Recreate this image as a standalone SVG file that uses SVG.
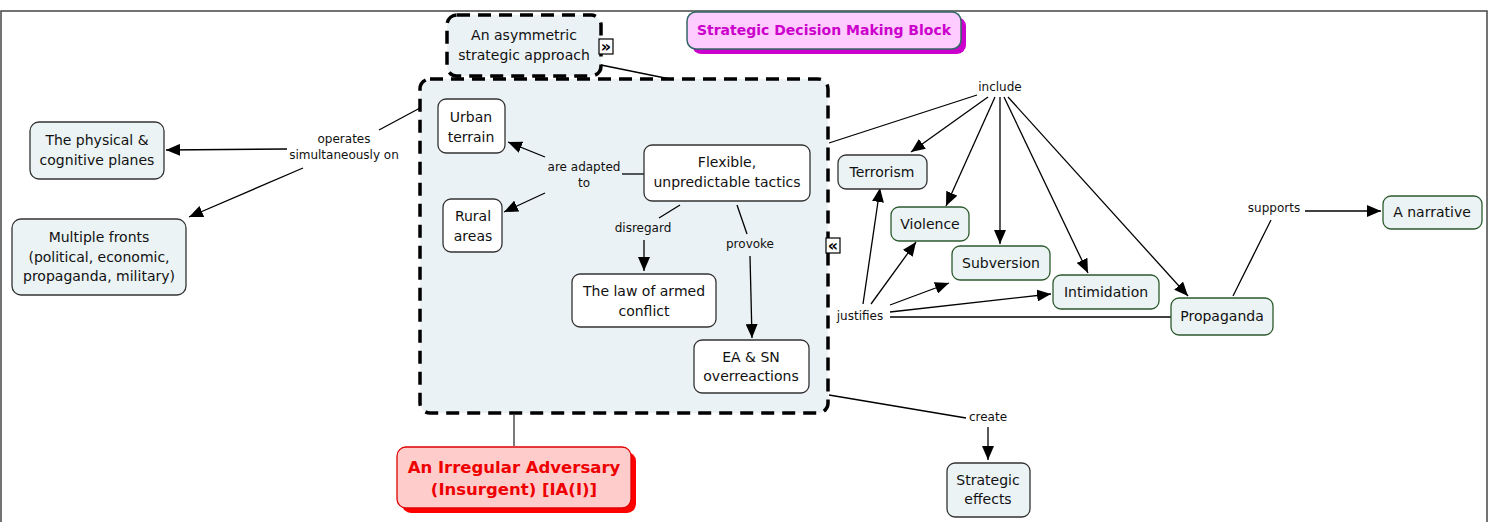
<svg xmlns="http://www.w3.org/2000/svg" width="1490" height="522" viewBox="0 0 1490 522">
<defs>
<marker id="ah" markerUnits="userSpaceOnUse" markerWidth="14" markerHeight="12" viewBox="0 0 14 12" refX="14" refY="6" orient="auto">
<path d="M0,0 L14,6 L0,12 z" fill="#000"/>
</marker>
<style>
.t{font-family:"DejaVu Sans","Liberation Sans",sans-serif;font-size:14px;fill:#111;text-anchor:middle}
.l{font-family:"DejaVu Sans","Liberation Sans",sans-serif;font-size:12px;fill:#111;text-anchor:middle}
.n{fill:#ebf3f5;stroke:#333;stroke-width:1.3}
.w{fill:#fff;stroke:#333;stroke-width:1.3}
.g{fill:#ebf3f5;stroke:#2d5a2d;stroke-width:1.3}
.c line{stroke:#000;stroke-width:1.3}
.a{marker-end:url(#ah)}
.d{stroke:#000;stroke-width:3.5;stroke-dasharray:13 8}
.ic{fill:#fff;stroke:#000;stroke-width:1.2}
.ig{font-family:"DejaVu Sans","Liberation Sans",sans-serif;font-size:16px;font-weight:bold;fill:#000;text-anchor:middle}
</style>
</defs>
<rect x="0" y="0" width="1490" height="522" fill="#fff"/>
<path d="M1,530 V11 H1487 V530" fill="none" stroke="#444" stroke-width="1.5"/>

<g id="group-box">
<rect x="420" y="79" width="408" height="334" rx="10" fill="#ebf2f5" class="d"/>
<rect x="826" y="238" width="14" height="15" class="ic"/>
<text x="833" y="251" class="ig">«</text>
</g>

<g class="c" id="connectors">
<line x1="379" y1="130" x2="420" y2="108"/>
<line class="a" x1="287" y1="149" x2="166" y2="150"/>
<line class="a" x1="303" y1="168" x2="189" y2="217"/>
<line x1="601" y1="65" x2="670" y2="79"/>
<line x1="622" y1="174" x2="644" y2="174"/>
<line class="a" x1="545" y1="157" x2="508" y2="142"/>
<line class="a" x1="545" y1="193" x2="504" y2="212"/>
<line x1="680" y1="205" x2="659" y2="218"/>
<line class="a" x1="644" y1="240" x2="644" y2="271"/>
<line x1="737" y1="205" x2="747" y2="234"/>
<line class="a" x1="750" y1="256" x2="752" y2="338"/>
<line x1="514" y1="415" x2="514" y2="446" style="stroke:#333"/>
<line x1="829" y1="395" x2="966" y2="418"/>
<line class="a" x1="988" y1="427" x2="988" y2="460"/>
<line x1="829" y1="143" x2="977" y2="95"/>
<line class="a" x1="988" y1="97" x2="911" y2="152"/>
<line class="a" x1="995" y1="97" x2="946" y2="206"/>
<line class="a" x1="1000" y1="97" x2="1000" y2="244"/>
<line class="a" x1="1004" y1="97" x2="1088" y2="273"/>
<line class="a" x1="1008" y1="97" x2="1188" y2="296"/>
<line class="a" x1="863" y1="304" x2="880" y2="188"/>
<line class="a" x1="871" y1="304" x2="916" y2="242"/>
<line class="a" x1="890" y1="305" x2="949" y2="283"/>
<line class="a" x1="890" y1="312" x2="1051" y2="294"/>
<line x1="890" y1="317" x2="1171" y2="317"/>
<line x1="1233" y1="296" x2="1271" y2="220"/>
<line class="a" x1="1305" y1="211" x2="1381" y2="211"/>
</g>

<g id="link-labels">
<text class="l" x="344" y="143">operates</text>
<text class="l" x="344" y="159">simultaneously on</text>
<text class="l" x="584" y="171">are adapted</text>
<text class="l" x="584" y="187">to</text>
<text class="l" x="643" y="232">disregard</text>
<text class="l" x="750" y="248">provoke</text>
<text class="l" x="988" y="421">create</text>
<text class="l" x="1000" y="91">include</text>
<text class="l" x="860" y="320">justifies</text>
<text class="l" x="1274" y="212">supports</text>
</g>

<g id="physical">
<rect x="30" y="122" width="134" height="57" rx="9" class="n"/>
<text class="t" x="97" y="145">The physical &amp;</text>
<text class="t" x="97" y="165">cognitive planes</text>
</g>
<g id="fronts">
<rect x="12" y="219" width="174" height="76" rx="9" class="n"/>
<text class="t" x="99" y="242">Multiple fronts</text>
<text class="t" x="99" y="262">(political, economic,</text>
<text class="t" x="99" y="281">propaganda, military)</text>
</g>
<g id="asymmetric">
<rect x="447" y="15" width="154" height="61" rx="10" fill="#ebf2f5" class="d"/>
<text class="t" x="524" y="40">An asymmetric</text>
<text class="t" x="524" y="60">strategic approach</text>
<rect x="599" y="39" width="14" height="15" class="ic"/>
<text x="606" y="52" class="ig">»</text>
</g>
<g id="sdmb">
<rect x="692" y="17" width="274" height="37" rx="9" fill="#cc00cc"/>
<rect x="687" y="12" width="274" height="37" rx="9" fill="#ffccff" stroke="#336666" stroke-width="1.5"/>
<text class="t" x="824" y="35" style="font-weight:bold;fill:#cc00cc">Strategic Decision Making Block</text>
</g>
<g id="urban">
<rect x="438" y="99" width="67" height="54" rx="8" class="w"/>
<text class="t" x="471" y="122">Urban</text>
<text class="t" x="471" y="142">terrain</text>
</g>
<g id="rural">
<rect x="443" y="199" width="59" height="53" rx="8" class="w"/>
<text class="t" x="473" y="221">Rural</text>
<text class="t" x="473" y="241">areas</text>
</g>
<g id="flexible">
<rect x="644" y="145" width="166" height="56" rx="8" class="w"/>
<text class="t" x="727" y="167">Flexible,</text>
<text class="t" x="727" y="187">unpredictable tactics</text>
</g>
<g id="law">
<rect x="572" y="274" width="144" height="53" rx="8" class="w"/>
<text class="t" x="644" y="296">The law of armed</text>
<text class="t" x="644" y="316">conflict</text>
</g>
<g id="overreactions">
<rect x="694" y="340" width="115" height="53" rx="8" class="w"/>
<text class="t" x="751" y="362">EA &amp; SN</text>
<text class="t" x="751" y="381">overreactions</text>
</g>
<g id="adversary">
<rect x="402" y="452" width="234" height="61" rx="9" fill="#ff0000"/>
<rect x="397" y="447" width="234" height="61" rx="9" fill="#ffcccc" stroke="#e00000" stroke-width="1.3"/>
<text class="t" x="514" y="473" style="font-weight:bold;font-size:16.5px;fill:#ee0000">An Irregular Adversary</text>
<text class="t" x="514" y="495" style="font-weight:bold;font-size:16.5px;fill:#ee0000">(Insurgent) [IA(I)]</text>
</g>
<g id="effects">
<rect x="947" y="463" width="83" height="54" rx="8" class="n"/>
<text class="t" x="988" y="485">Strategic</text>
<text class="t" x="988" y="504">effects</text>
</g>
<g id="terrorism">
<rect x="838" y="155" width="89" height="34" rx="8" class="n"/>
<text class="t" x="882" y="177">Terrorism</text>
</g>
<g id="violence">
<rect x="891" y="207" width="78" height="34" rx="8" class="g"/>
<text class="t" x="930" y="229">Violence</text>
</g>
<g id="subversion">
<rect x="952" y="246" width="98" height="34" rx="8" class="g"/>
<text class="t" x="1001" y="268">Subversion</text>
</g>
<g id="intimidation">
<rect x="1053" y="275" width="106" height="34" rx="8" class="g"/>
<text class="t" x="1106" y="297">Intimidation</text>
</g>
<g id="propaganda">
<rect x="1171" y="298" width="102" height="37" rx="8" class="g"/>
<text class="t" x="1222" y="321">Propaganda</text>
</g>
<g id="narrative">
<rect x="1383" y="196" width="99" height="33" rx="8" class="g"/>
<text class="t" x="1432" y="217">A narrative</text>
</g>
</svg>
